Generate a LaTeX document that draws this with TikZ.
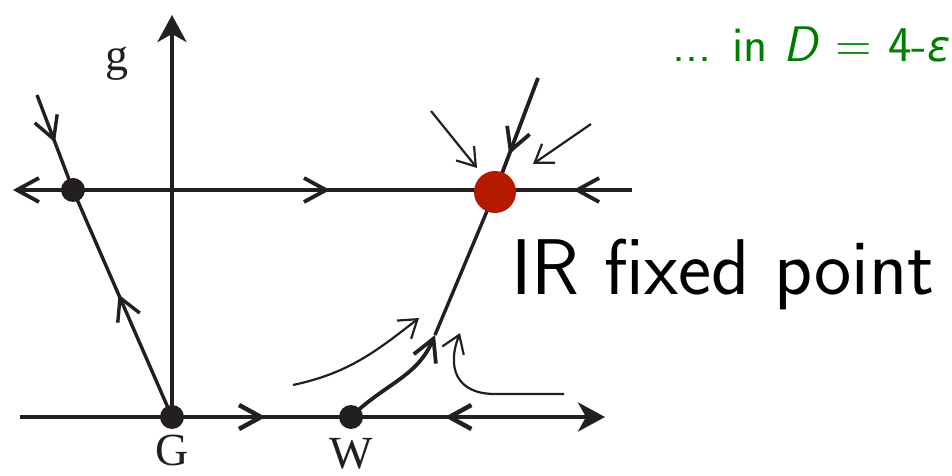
\documentclass[tikz,border=0pt]{standalone}
\usepackage{fontspec}
\newfontfamily\tmsfont{Liberation Serif}
\newfontfamily\grkfont{DejaVu Sans}
\usetikzlibrary{arrows.meta,decorations.markings}
\definecolor{ink}{RGB}{35,31,32}
\definecolor{fpred}{RGB}{180,25,0}
\definecolor{dgreen}{RGB}{0,125,0}
\pgfdeclarelayer{bg}
\pgfsetlayers{bg,main}
\tikzset{
  chev/.tip={Straight Barb[length=22pt,width=24pt]},
  schev/.tip={Straight Barb[length=17pt,width=23pt]},
  bigtip/.tip={Stealth[length=27pt,width=29pt,inset=8pt]},
  midfwd/.style={postaction={decorate,decoration={markings,mark=at position #1 with {\arrow{chev}}}}},
  midbwd/.style={postaction={decorate,decoration={markings,mark=at position #1 with {\arrowreversed{chev}}}}},
  axis/.style={draw=ink,line width=4.5pt},
  flow/.style={draw=ink,line width=3.8pt},
  thinarr/.style={draw=ink,line width=2.2pt,-{schev}},
  dot/.style={circle,fill=ink,inner sep=0pt,minimum size=24pt},
  fp/.style={circle,fill=fpred,inner sep=0pt,minimum size=42pt},
  lab/.style={font=\tmsfont\fontsize{46}{50}\selectfont,text=ink,inner sep=0pt}
}
\begin{document}
\begin{tikzpicture}[x=1pt,y=1pt]
\useasboundingbox (0,0) rectangle (952,476);
% fixed points
\node[dot] (A) at (73,286) {};
\node[dot] (G) at (172,59) {};
\node[dot] (W) at (351,59) {};
\node[fp] (F) at (495,284) {};
% free ends
\coordinate (UL) at (13,286);
\coordinate (UR) at (632,286);
\coordinate (BL) at (20,59);
\coordinate (BR) at (605,59);
\coordinate (VT) at (172,461);
\coordinate (S0) at (37,381);
\coordinate (T0) at (538,398);
\coordinate (P) at (435,141);
\coordinate (a1s) at (431,365);
\coordinate (a1e) at (477,308);
\coordinate (a2s) at (591,352);
\coordinate (a2e) at (533,312);
\coordinate (c1s) at (293,91);
\coordinate (c1e) at (419,158);
\coordinate (c2s) at (564,82);
\coordinate (c2m) at (495,82);
\coordinate (c2e) at (460,143);
\begin{pgfonlayer}{bg}
\draw[axis,-{bigtip}] (G.center) -- (VT);
\draw[axis,-{bigtip},midfwd=0.42,midbwd=0.726] (BL) -- (BR);
\draw[flow,{chev}-,midfwd=0.512,midbwd=0.905] (UL) -- (UR);
\draw[flow,line width=3.4pt,midfwd=0.5] (S0) -- (A.center);
\draw[flow,line width=3.4pt,midfwd=0.54] (G.center) -- (A.center);
\draw[flow,midfwd=0.67] (T0) -- (F.center);
\draw[flow,-{chev}] (W.center) to[out=45,in=247] (P);
\draw[flow,line width=3.4pt] (P) -- (F.center);
\draw[thinarr] (a1s) -- (a1e);
\draw[thinarr] (a2s) -- (a2e);
\draw[thinarr] (c1s) to[out=12,in=218] (c1e);
\draw[thinarr] (c2s) -- (c2m) .. controls (455,82) and (447,110) .. (c2e);
\end{pgfonlayer}
% labels
\node[lab,anchor=base] (lg) at (117,405) {g};
\node[lab,anchor=base] (lG) at (172,10) {G};
\node[lab,anchor=base] (lW) at (351,8) {W};
\node[anchor=base west,inner sep=0pt,text=black,font=\sffamily\fontsize{79}{84}\selectfont] (lIR) at (511,181) {IR fixed point};
\node[anchor=base west,inner sep=0pt,text=dgreen,font=\sffamily\fontsize{50}{54}\selectfont] (lD) at (672,414) {... in \textit{D} = 4-{\grkfont\itshape\fontsize{43}{47}\selectfont ε}};
\end{tikzpicture}
\end{document}
